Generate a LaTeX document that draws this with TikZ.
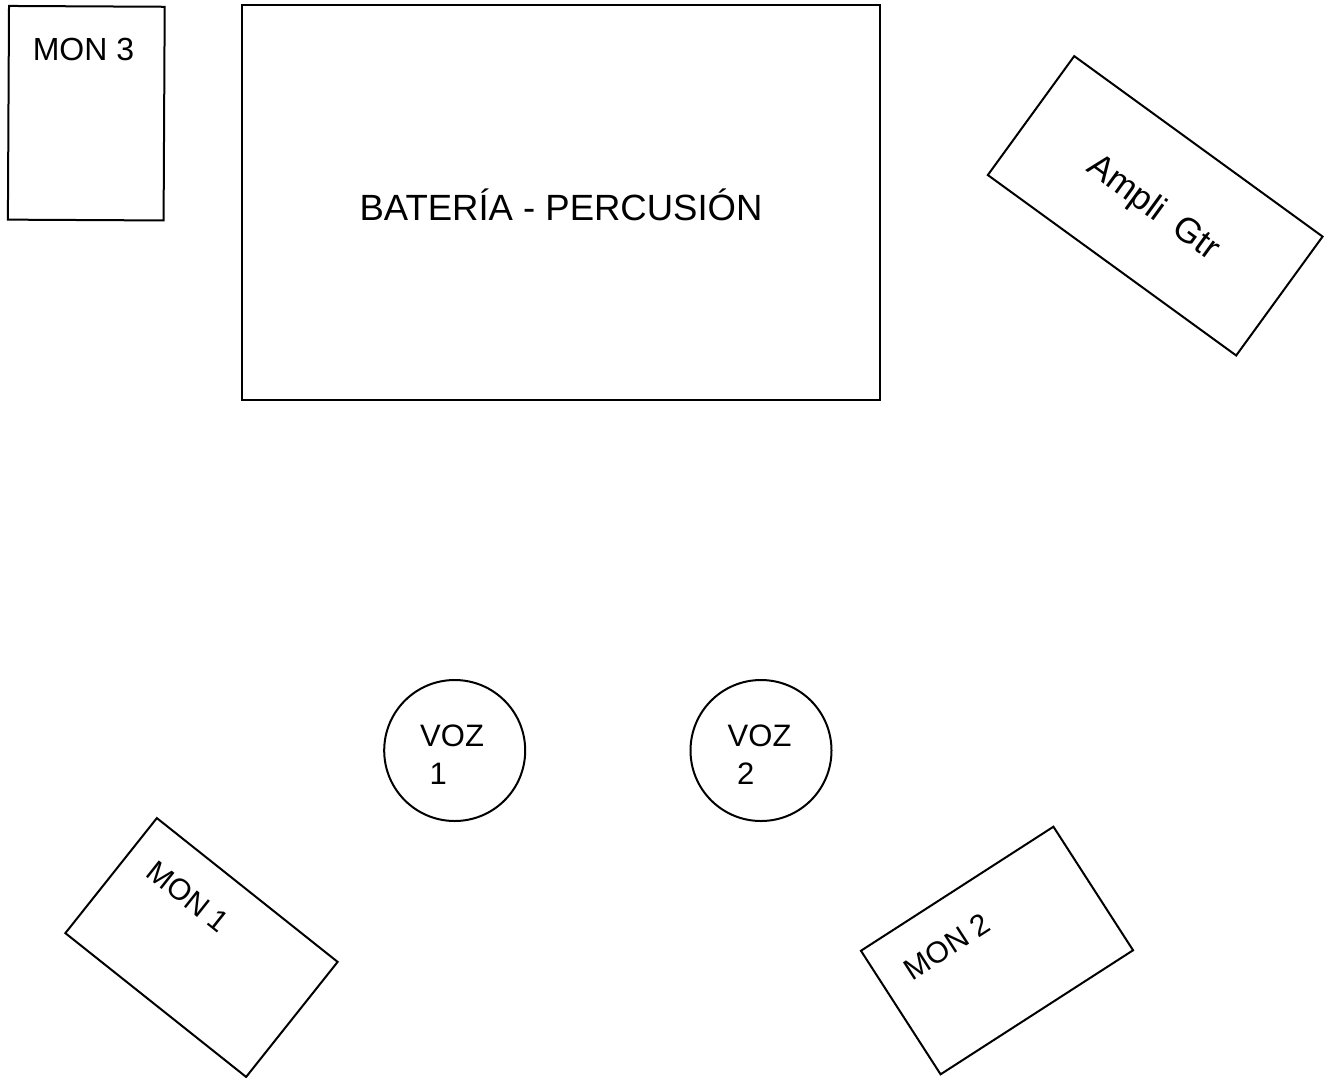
\documentclass[tikz,border=0pt]{standalone}
\usepackage{fontspec}
\setmainfont{Liberation Sans}
\begin{document}
\begin{tikzpicture}[x=1pt,y=-1pt,
  box/.style={draw=black,line width=2pt,inner sep=0pt,fill=none},
  lbl/.style={inner sep=0pt,text=black},
  voz/.style={draw=black,line width=2pt,circle,inner sep=0pt,minimum size=141pt},
  f36/.style={font=\fontsize{36.5}{44}\selectfont},
  f35/.style={font=\fontsize{35}{42}\selectfont},
  f32/.style={font=\fontsize{32}{38}\selectfont},
  f31/.style={font=\fontsize{31}{37.3}\selectfont},
  f30/.style={font=\fontsize{30}{36}\selectfont}]
\useasboundingbox (0,0) rectangle (1330,1077);
% MON 3
\node[box,minimum width=155.7pt,minimum height=213.7pt,rotate=-0.3] (mon3) at (86.3,113.2) {};
\node[lbl,f32,anchor=base] (mon3t) at (83.5,60.5) {MON 3};
% Bateria
\node[box,minimum width=638pt,minimum height=395pt] (bat) at (561,202.5) {};
\node[lbl,f36,anchor=base] (batt) at (561,220.7) {BATERÍA - PERCUSIÓN};
% Ampli
\node[box,minimum width=307pt,minimum height=147pt,rotate=-36] (amp) at (1155.2,205.8) {};
\node[lbl,f35,rotate=-36,anchor=base] (ampt) at (1147.4,215.9) {Ampli\hspace{0.5em}Gtr};
% VOZ
\node[voz] (v1) at (454.7,750.5) {};
\node[voz] (v2) at (761,750.5) {};
\node[lbl,f31,align=left,anchor=base west] (v1t) at (420,784) {VOZ\\\hspace{0.3em}1};
\node[lbl,f31,align=left,anchor=base west] (v2t) at (727.5,784) {VOZ\\\hspace{0.3em}2};
% MON 1
\node[box,minimum width=231pt,minimum height=147pt,rotate=-38.5] (mon1) at (201.5,947.5) {};
\node[lbl,f30,rotate=-38.5] (mon1t) at (188.3,896.7) {MON 1};
% MON 2
\node[box,minimum width=229pt,minimum height=147pt,rotate=32.8] (mon2) at (997,950.5) {};
\node[lbl,f30,rotate=32.8] (mon2t) at (946.7,946.7) {MON 2};
\end{tikzpicture}
\end{document}
